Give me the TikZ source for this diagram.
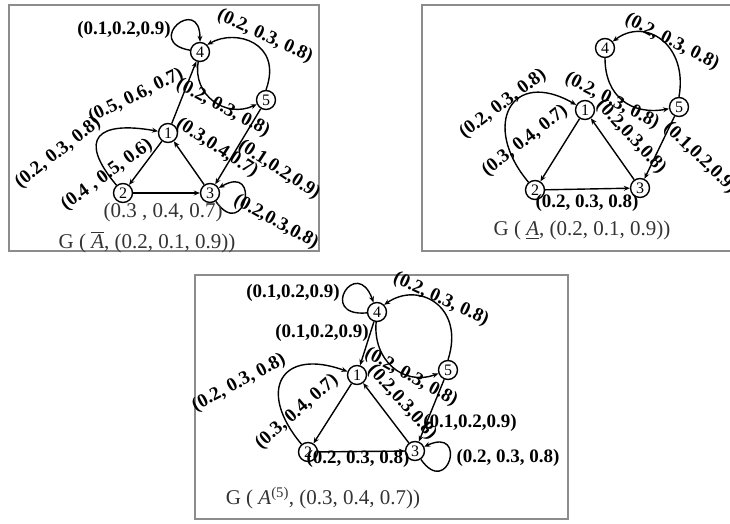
\documentclass[tikz,border=0pt]{standalone}
\usepackage{amsmath}
\usepackage{fontspec}
\setmainfont{Liberation Serif}
\usepackage{tikz}
\usetikzlibrary{arrows.meta,calc}

\begin{document}
\begin{tikzpicture}[x=1pt,y=1pt,line width=1.4pt,
    >={Stealth[length=6pt,width=5pt]},
    vtx/.style={circle,draw,inner sep=0pt,minimum size=19pt,font=\fontsize{16}{16}\selectfont},
    lbl/.style={inner sep=0pt,font=\fontsize{19}{19}\selectfont\bfseries},
    captxt/.style={inner sep=0pt,text=black!80,font=\fontsize{21}{21}\selectfont},
    frm/.style={draw=black!45,line width=1.4pt}]
            \useasboundingbox (0,0) rectangle (730,523);
            \clip (0,0) rectangle (730,523);
            % frames
            \draw[frm] (9,272) rectangle (319,518);
            \draw[frm] (422,272) rectangle (740,518);
            \draw[frm] (195,4) rectangle (568,248);
            % G(A bar)
            \node[vtx] (a1) at (168,390) {1};
            \node[vtx] (a2) at (123,330) {2};
            \node[vtx] (a3) at (210,330) {3};
            \node[vtx] (a4) at (200,471) {4};
            \node[vtx] (a5) at (266,423) {5};
            \draw[->] (a4.170) .. controls +(170:48) and +(90:48) .. (a4.90);
            \draw[->] (a5.north) .. controls +(70:50) and +(30:33) .. (a4.45);
            \draw[->] (a4) to[out=-100,in=205,looseness=1.2] (a5);
            \draw[->] (a1) -- (a4);
            \draw[->] (a2) to[out=130,in=170,looseness=2.3] (a1);
            \draw[->] (a1) -- (a2);
            \draw[->] (a2) -- (a3);
            \draw[->] (a3) -- (a1);
            \draw[->] (a5) -- (a3);
            \draw[->] (a3.-55) .. controls +(-55:50) and +(30:50) .. (a3.30);
            \node[lbl] (la1) at (124,493) {(0.1,0.2,0.9)};
            \node[lbl,rotate=-25] (la2) at (265,487) {(0.2, 0.3, 0.8)};
            \node[lbl,rotate=26] (la3) at (136,427) {(0.5, 0.6, 0.7)};
            \node[lbl,rotate=-28] (la4) at (223,415) {(0.2, 0.3, 0.8)};
            \node[lbl,rotate=38] (la5) at (58,370) {(0.2, 0.3, 0.8)};
            \node[lbl,rotate=36] (la6) at (107,348) {(0.4 , 0.5, 0.6)};
            \node[lbl,rotate=-33] (la7) at (217,375) {(0.3,0.4,0.7)};
            \node[lbl,rotate=-33] (la8) at (279,353) {(0.1,0.2,0.9)};
            \node[lbl,rotate=-29] (la9) at (276,301) {(0.2,0.3,0.8)};
            \node[captxt] (la10) at (163,311) {(0.3 , 0.4, 0.7)};
            \node[captxt] (capa) at (147,281) {G ( $\overline{\text{\itshape A}}$, (0.2, 0.1, 0.9))};
            % G(A underline)
            \node[vtx] (b1) at (585,413) {1};
            \node[vtx] (b2) at (535,333) {2};
            \node[vtx] (b3) at (640,335) {3};
            \node[vtx] (b4) at (605,475) {4};
            \node[vtx] (b5) at (679,416) {5};
            \draw[->] (b5.north) .. controls +(80:53) and +(37:41) .. (b4.40);
            \draw[->] (b4) to[out=-90,in=190,looseness=1.2] (b5);
            \draw[->] (b2) to[out=130,in=150,looseness=2.1] (b1);
            \draw[->] (b1) -- (b2);
            \draw[->] (b2) -- (b3);
            \draw[->] (b3) -- (b1);
            \draw[->] (b5) -- (b3);
            \node[lbl,rotate=-27] (lb1) at (672,481) {(0.2, 0.3, 0.8)};
            \node[lbl,rotate=-27] (lb2) at (612,422) {(0.2, 0.3, 0.8)};
            \node[lbl,rotate=-47] (lb3) at (631,386) {(0.2,0.3,0.8)};
            \node[lbl,rotate=-44,anchor=west] (lb4) at (666,398) {(0.1,0.2,0.9)};
            \node[lbl,rotate=37] (lb5) at (503,419) {(0.2, 0.3, 0.8)};
            \node[lbl,rotate=38] (lb6) at (525,382) {(0.3, 0.4, 0.7)};
            \node[lbl] (lb7) at (587,320) {(0.2, 0.3, 0.8)};
            \node[captxt] (capb) at (582,293) {G ( \underline{\itshape A}, (0.2, 0.1, 0.9))};
            % G(A^(5))
            \node[vtx] (c1) at (357,148) {1};
            \node[vtx] (c2) at (308,71) {2};
            \node[vtx] (c3) at (415,72) {3};
            \node[vtx] (c4) at (377,211) {4};
            \node[vtx] (c5) at (448,153) {5};
            \draw[->] (c4.185) .. controls +(185:50) and +(110:50) .. (c4.110);
            \draw[->] (c5.north) .. controls +(72:56) and +(35:42) .. (c4.45);
            \draw[->] (c4) to[out=-95,in=200,looseness=1.2] (c5);
            \draw[->] (c4) -- (c1);
            \draw[->] (c2) to[out=130,in=160,looseness=2.1] (c1);
            \draw[->] (c1) -- (c2);
            \draw[->] (c2) -- (c3);
            \draw[->] (c3) -- (c1);
            \draw[->] (c5) -- (c3);
            \draw[->] (c3.-55) .. controls +(-55:48) and +(25:48) .. (c3.25);
            \node[lbl] (lc1) at (293,230) {(0.1,0.2,0.9)};
            \node[lbl,rotate=-25] (lc2) at (441,224) {(0.2, 0.3, 0.8)};
            \node[lbl] (lc3) at (322,190) {(0.1,0.2,0.9)};
            \node[lbl,rotate=-29] (lc4) at (411,146) {(0.2, 0.3, 0.8)};
            \node[lbl,rotate=-48] (lc5) at (402,121) {(0.2,0.3,0.8)};
            \node[lbl,rotate=28] (lc6) at (239,140) {(0.2, 0.3, 0.8)};
            \node[lbl,rotate=41] (lc7) at (297,111) {(0.3, 0.4, 0.7)};
            \node[lbl] (lc8) at (358,64) {(0.2, 0.3, 0.8)};
            \node[lbl] (lc9) at (470,100) {(0.1,0.2,0.9)};
            \node[lbl] (lc10) at (508,65) {(0.2, 0.3, 0.8)};
            \node[captxt] (capc) at (323,25) {G ( {\itshape A}\textsuperscript{(5)}, (0.3, 0.4, 0.7))};
        \end{tikzpicture}
\end{document}
